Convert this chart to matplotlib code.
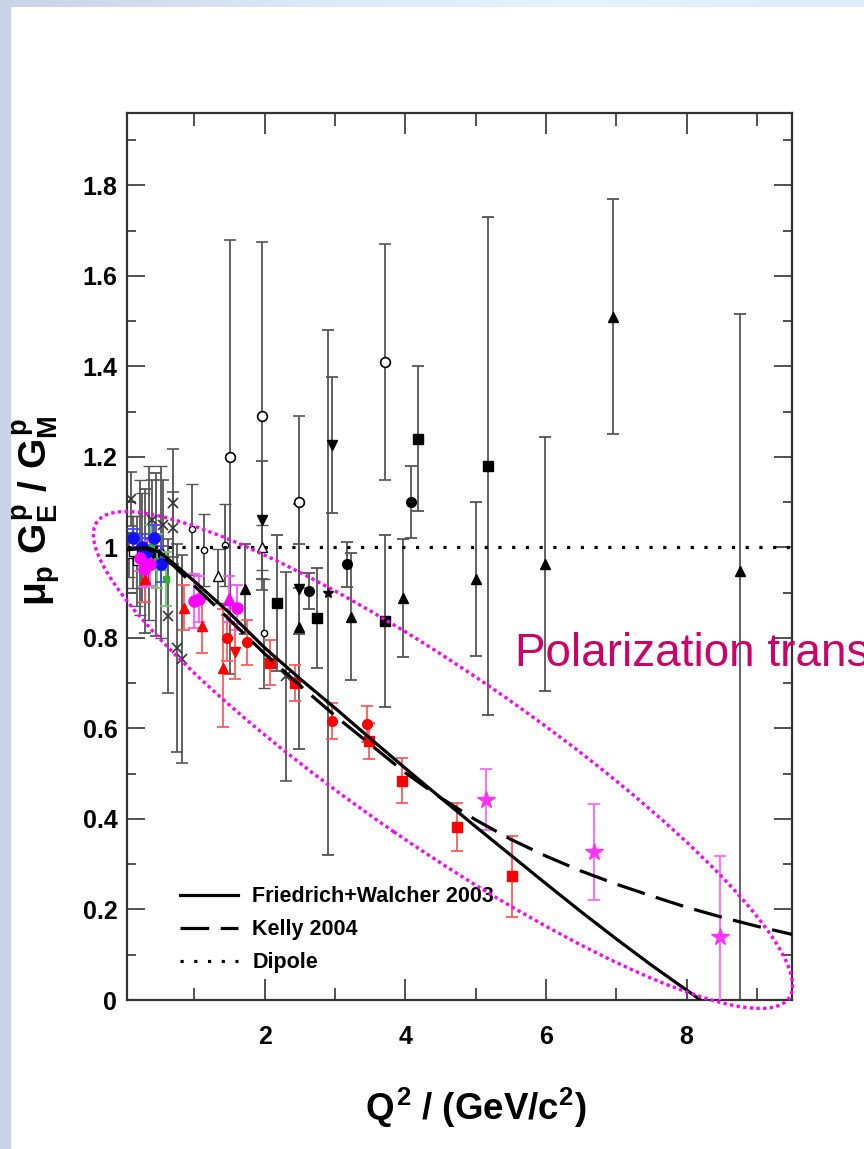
import matplotlib.pyplot as plt
import numpy as np
from matplotlib.patches import Ellipse, Rectangle
from matplotlib.lines import Line2D
from matplotlib.colors import LinearSegmentedColormap

# Fonts (ROOT-like bold Helvetica)
plt.rcParams["font.family"] = "Liberation Sans"
plt.rcParams["font.weight"] = "bold"
plt.rcParams["axes.labelweight"] = "bold"
plt.rcParams["mathtext.fontset"] = "custom"
plt.rcParams["mathtext.rm"] = "Liberation Sans:bold"
plt.rcParams["mathtext.it"] = "Liberation Sans:bold"
plt.rcParams["mathtext.bf"] = "Liberation Sans:bold"

# ---------------- model curves ----------------
fw_q2 = [0.04, 0.3, 0.5, 0.7, 1.0, 1.5, 2.0, 2.5, 3.0, 3.5, 4.0, 4.5, 5.0, 5.5, 6.0, 6.5, 7.0, 7.5, 8.0, 8.2]
fw_r = [0.996, 1.0, 0.99, 0.965, 0.925, 0.855, 0.778, 0.71, 0.645, 0.578, 0.512, 0.447, 0.383, 0.32, 0.257, 0.195, 0.135, 0.077, 0.022, 0.0]

kelly_q2 = [0.04, 0.3, 0.5, 0.7, 1.0, 1.5, 2.0, 2.5, 3.0, 3.5, 4.0, 4.5, 5.0, 5.5, 6.0, 6.5, 7.0, 7.5, 8.0, 8.5, 9.0, 9.5]
kelly_r = [0.995, 0.998, 0.985, 0.96, 0.915, 0.84, 0.765, 0.695, 0.628, 0.565, 0.502, 0.447, 0.398, 0.355, 0.318, 0.285, 0.256, 0.23, 0.205, 0.183, 0.163, 0.145]

dipole_q2 = [0.04, 9.5]
dipole_r = [1.0, 1.0]

# ---------------- Rosenbluth-type data (black, gray bars) ----------------
ocirc_x = [1.50, 1.96, 3.71, 2.49]
ocirc_y = [1.20, 1.29, 1.41, 1.10]
ocirc_e = [0.48, 0.385, 0.26, 0.19]

socirc_x = [0.22, 0.36, 0.52, 0.97, 1.13, 1.44, 1.99]
socirc_y = [1.00, 1.01, 0.99, 1.04, 0.995, 1.005, 0.81]
socirc_e = [0.15, 0.17, 0.19, 0.10, 0.08, 0.09, 0.12]

dtri_x = [1.96, 2.49, 2.95]
dtri_y = [1.06, 0.908, 1.226]
dtri_e = [0.13, 0.10, 0.15]

utri_x = [6.96, 5.98, 5.00, 3.96, 3.23, 2.49, 1.72]
utri_y = [1.51, 0.963, 0.93, 0.889, 0.847, 0.825, 0.908]
utri_e = [0.26, 0.28, 0.17, 0.13, 0.14, 0.27, 0.10]

# last point has an asymmetric bar reaching the axis
utri2_x = [8.76]
utri2_y = [0.948]
utri2_lo = [0.95]
utri2_hi = [0.567]

otri_x = [1.33, 1.96]
otri_y = [0.937, 1.0]
otri_e = [0.06, 0.05]

fsq_x = [5.17, 4.18, 3.71, 2.17, 2.74]
fsq_y = [1.18, 1.24, 0.838, 0.877, 0.844]
fsq_e = [0.55, 0.16, 0.19, 0.15, 0.11]

osq_x = [0.07, 0.12, 0.18, 0.26]
osq_y = [0.985, 0.99, 0.97, 1.0]
osq_e = [0.05, 0.08, 0.10, 0.12]

fcirc_x = [4.08, 3.17, 2.63, 0.30, 0.45]
fcirc_y = [1.10, 0.963, 0.904, 0.97, 0.985]
fcirc_e = [0.08, 0.05, 0.04, 0.16, 0.18]

cross_x = [0.10, 0.40, 0.55, 0.70, 0.70, 0.63, 0.75, 0.82, 2.30]
cross_y = [1.107, 1.06, 1.05, 1.098, 1.043, 0.849, 0.778, 0.754, 0.715]
cross_e = [0.06, 0.09, 0.10, 0.12, 0.08, 0.17, 0.23, 0.23, 0.23]

bstar_x = [2.90]
bstar_y = [0.90]
bstar_e = [0.58]

# ---------------- polarization data ----------------
rcirc_x = [2.96, 3.46, 1.46, 1.75]
rcirc_y = [0.617, 0.609, 0.80, 0.79]
rcirc_e = [0.04, 0.04, 0.05, 0.05]

rsq_x = [3.48, 3.95, 4.74, 5.52, 2.43, 2.08]
rsq_y = [0.573, 0.485, 0.382, 0.273, 0.70, 0.745]
rsq_e = [0.04, 0.05, 0.053, 0.09, 0.04, 0.05]

rutri_x = [0.30, 0.85, 1.10, 1.40]
rutri_y = [0.93, 0.867, 0.827, 0.734]
rutri_e = [0.05, 0.05, 0.06, 0.13]

rdtri_x = [1.58]
rdtri_y = [0.77]
rdtri_e = [0.06]

bcirc_x = [0.13, 0.25, 0.33, 0.42, 0.52]
bcirc_y = [1.02, 1.0, 0.99, 1.02, 0.964]
bcirc_e = [0.02, 0.03, 0.03, 0.03, 0.04]

gsq_x = [0.38, 0.47, 0.60]
gsq_y = [1.00, 0.97, 0.93]
gsq_e = [0.05, 0.06, 0.06]

mcirc_x = [0.23, 0.28, 0.37, 0.99, 1.06, 1.60]
mcirc_y = [0.977, 0.953, 0.964, 0.882, 0.886, 0.867]
mcirc_e = [0.03, 0.04, 0.05, 0.06, 0.05, 0.05]

mtri_x = [1.49]
mtri_y = [0.886]
mtri_e = [0.05]

mstar_x = [5.15, 6.69, 8.48]
mstar_y = [0.443, 0.327, 0.139]
mstar_e = [0.068, 0.107, 0.18]

# ---------------- figure ----------------
fig = plt.figure(figsize=(8.64, 11.49), dpi=100)

# slide background strips (left and top)
bg_left = Rectangle((0, 0), 10 / 864, 1, transform=fig.transFigure, color="#c8d3e8", zorder=-10)
fig.patches.append(bg_left)
bg_top = fig.add_axes([0, 1 - 7 / 1149, 1, 7 / 1149], zorder=-10)
cmap_bg = LinearSegmentedColormap.from_list("bg", ["#c8d3e8", "#d8e8f6", "#e4f4fc", "#dcecf8"])
bg_top.imshow(np.linspace(0, 1, 200)[None, :], cmap=cmap_bg, aspect="auto")
bg_top.axis("off")

ax = fig.add_axes([127 / 864, 149 / 1149, 665 / 864, 887 / 1149])

gray = "#555555"
kw_gray = dict(ecolor=gray, elinewidth=1.3, capsize=4.6, capthick=1.3, zorder=2, linestyle="none")

ax.errorbar(ocirc_x, ocirc_y, yerr=ocirc_e, fmt="o", ms=7, mfc="white", mec="black", mew=1.2, **kw_gray)
ax.errorbar(socirc_x, socirc_y, yerr=socirc_e, fmt="o", ms=4.5, mfc="white", mec="black", mew=1.0, **kw_gray)
ax.errorbar(dtri_x, dtri_y, yerr=dtri_e, fmt="v", ms=7, color="black", **kw_gray)
ax.errorbar(utri_x, utri_y, yerr=utri_e, fmt="^", ms=7, color="black", **kw_gray)
ax.errorbar(utri2_x, utri2_y, yerr=[utri2_lo, utri2_hi], fmt="^", ms=7, color="black", **kw_gray)
ax.errorbar(otri_x, otri_y, yerr=otri_e, fmt="^", ms=7, mfc="white", mec="black", mew=1.0, **kw_gray)
ax.errorbar(fsq_x, fsq_y, yerr=fsq_e, fmt="s", ms=7, color="black", **kw_gray)
ax.errorbar(osq_x, osq_y, yerr=osq_e, fmt="s", ms=6, mfc="white", mec="black", mew=1.0, **kw_gray)
ax.errorbar(fcirc_x, fcirc_y, yerr=fcirc_e, fmt="o", ms=7, color="black", **kw_gray)
ax.errorbar(cross_x, cross_y, yerr=cross_e, fmt="x", ms=7, mew=1.2, color="#333333", **kw_gray)
ax.errorbar(bstar_x, bstar_y, yerr=bstar_e, fmt="*", ms=7, color="black", **kw_gray)

kw_col = dict(elinewidth=1.3, capsize=4.6, capthick=1.3, zorder=3, linestyle="none")
ax.errorbar(rcirc_x, rcirc_y, yerr=rcirc_e, fmt="o", ms=7, color="red", ecolor="#ff5a5a", **kw_col)
ax.errorbar(rsq_x, rsq_y, yerr=rsq_e, fmt="s", ms=6.5, color="red", ecolor="#ff5a5a", **kw_col)
ax.errorbar(rutri_x, rutri_y, yerr=rutri_e, fmt="^", ms=7, color="red", ecolor="#ff5a5a", **kw_col)
ax.errorbar(rdtri_x, rdtri_y, yerr=rdtri_e, fmt="v", ms=7, color="red", ecolor="#ff5a5a", **kw_col)
ax.errorbar(gsq_x, gsq_y, yerr=gsq_e, fmt="s", ms=4, color="#33aa33", ecolor="#66cc66", **kw_col)
ax.errorbar(bcirc_x, bcirc_y, yerr=bcirc_e, fmt="o", ms=8, color="#1010ff", ecolor="#4444ff", **kw_col)
ax.errorbar(mcirc_x, mcirc_y, yerr=mcirc_e, fmt="o", ms=8, color="#ff00ff", ecolor="#ff55ff", **kw_col)
ax.errorbar(mtri_x, mtri_y, yerr=mtri_e, fmt="^", ms=8, color="#ff00ff", ecolor="#ff55ff", **kw_col)
ax.errorbar(mstar_x, mstar_y, yerr=mstar_e, fmt="*", ms=13, color="#ff33ff", ecolor="#ff66ff", **kw_col)

# model curves
ax.plot(fw_q2, fw_r, color="black", lw=2.3, zorder=6)
ax.plot(kelly_q2, kelly_r, color="black", lw=2.3, ls=(0, (9, 3.6)), zorder=6)
ax.plot(dipole_q2, dipole_r, color="black", lw=2.3, ls=(0, (1, 3.3)), zorder=6)

# axes
ax.set_xlim(0.04, 9.5)
ax.set_ylim(0, 1.96)
ax.set_xticks([2, 4, 6, 8])
ax.set_xticks([1, 3, 5, 7, 9], minor=True)
yt = [0, 0.2, 0.4, 0.6, 0.8, 1.0, 1.2, 1.4, 1.6, 1.8]
ax.set_yticks(yt)
ax.set_yticklabels(["0", "0.2", "0.4", "0.6", "0.8", "1", "1.2", "1.4", "1.6", "1.8"])
ax.set_yticks(np.arange(0.1, 1.95, 0.2), minor=True)

ax.tick_params(which="both", direction="in", top=True, right=True, color="#333333", width=1.2, labelcolor="black")
ax.tick_params(axis="x", which="major", length=15, pad=18, labelsize=18)
ax.tick_params(axis="x", which="minor", length=9)
ax.tick_params(axis="y", which="major", length=13, pad=7, labelsize=18)
ax.tick_params(axis="y", which="minor", length=6.5)
for s in ax.spines.values():
    s.set_linewidth(1.6)
    s.set_color("#333333")

ax.set_xlabel(r"$Q^2$ / (GeV/c$^2$)", fontsize=26.5, fontweight="bold")
ax.xaxis.set_label_coords(0.525, -0.097)
ax.set_ylabel(r"$\mu_p\ G_E^p\ /\ G_M^p$", fontsize=28, fontweight="bold")
ax.yaxis.set_label_coords(-0.098, 0.551)

# legend
handles = [
    Line2D([], [], color="black", lw=2.3),
    Line2D([], [], color="black", lw=2.3, ls=(0, (9, 3.6))),
    Line2D([], [], color="black", lw=2.3, ls=(0, (1, 3.3))),
]
ax.legend(handles, ["Friedrich+Walcher 2003", "Kelly 2004", "Dipole"],
          loc="upper left", bbox_to_anchor=(0.08, 0.128), frameon=False,
          prop={"size": 15.5, "weight": "bold"}, handlelength=2.7, handletextpad=0.65,
          labelspacing=0.55, borderpad=0, borderaxespad=0)

# slide overlay: dotted ellipse and caption
ell = Ellipse((4.43, 3.89), 8.40, 1.74, angle=-34.5, transform=fig.dpi_scale_trans,
              fill=False, edgecolor="#ff00ff", lw=2.4, ls=(0, (1, 1.0)), zorder=10)
fig.add_artist(ell)
fig.text(515 / 864, 1 - 666 / 1149, "Polarization transfer", color="#cc0066",
         fontsize=33, fontweight="normal", va="baseline", ha="left")

fig.savefig("out.png", dpi=100)
